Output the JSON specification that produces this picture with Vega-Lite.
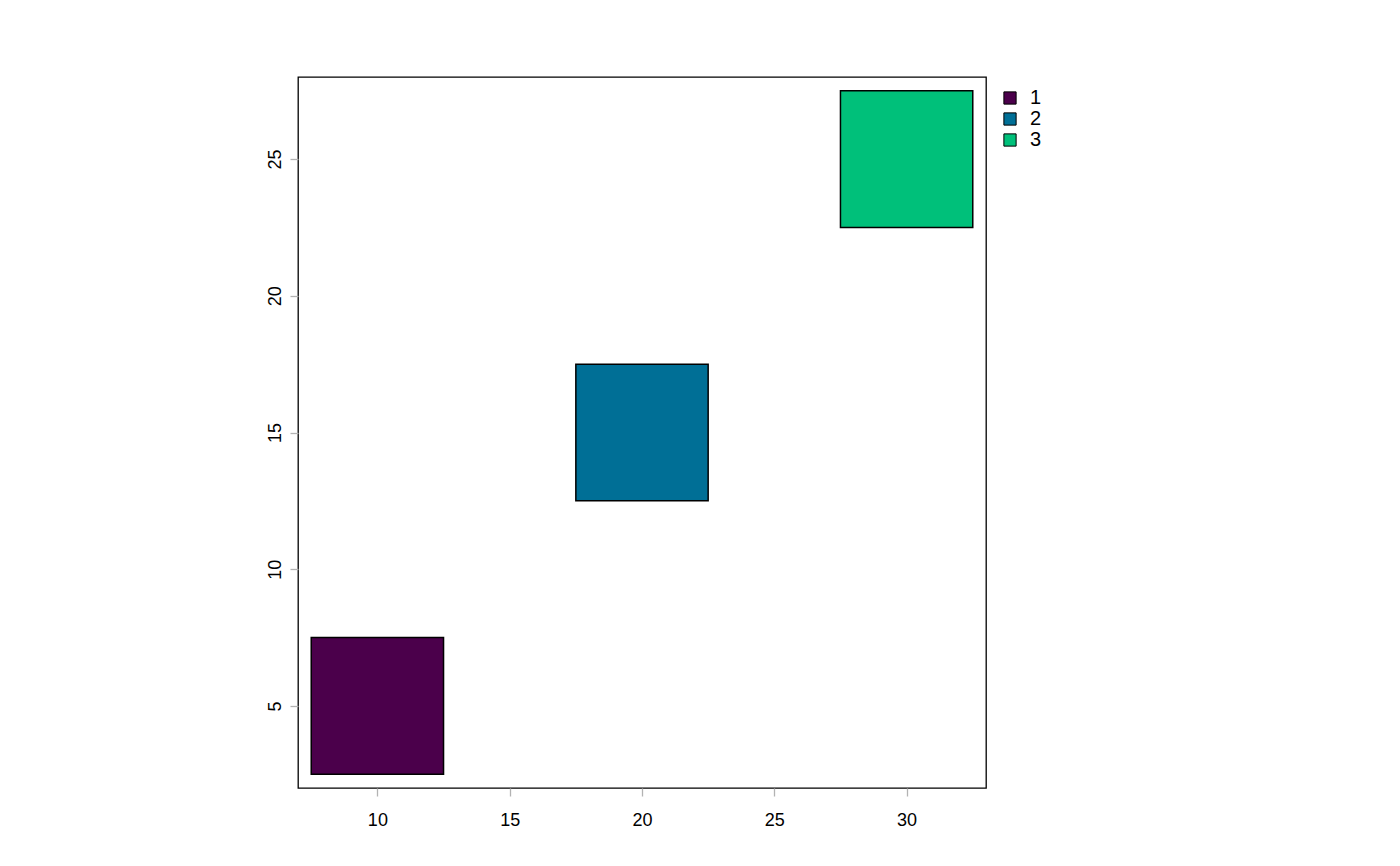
{
  "$schema": "https://vega.github.io/schema/vega-lite/v6.json",
  "autosize": "none",
  "width": 688,
  "height": 711,
  "padding": {"left": 298, "top": 77, "right": 414, "bottom": 78},
  "background": "white",
  "config": {
    "view": {"stroke": "black", "strokeWidth": 1.3},
    "font": "Liberation Sans",
    "axis": {
      "domain": false,
      "grid": false,
      "tickColor": "#b3b3b3",
      "tickSize": 8,
      "tickWidth": 1.3,
      "labelFont": "Liberation Sans",
      "labelFontSize": 18,
      "labelColor": "black",
      "title": null
    }
  },
  "data": {
    "values": [
      {"id": "1", "xmin": 7.5, "xmax": 12.5, "ymin": 2.5, "ymax": 7.5},
      {"id": "2", "xmin": 17.5, "xmax": 22.5, "ymin": 12.5, "ymax": 17.5},
      {"id": "3", "xmin": 27.5, "xmax": 32.5, "ymin": 22.5, "ymax": 27.5}
    ]
  },
  "mark": {"type": "rect", "stroke": "black", "strokeWidth": 1.5},
  "encoding": {
    "x": {
      "field": "xmin",
      "type": "quantitative",
      "scale": {"domain": [7, 33], "nice": false, "zero": false},
      "axis": {"values": [10, 15, 20, 25, 30], "labelBaseline": "top", "labelPadding": 15}
    },
    "x2": {"field": "xmax"},
    "y": {
      "field": "ymin",
      "type": "quantitative",
      "scale": {"domain": [2, 28], "nice": false, "zero": false},
      "axis": {"values": [5, 10, 15, 20, 25], "labelAngle": -90, "labelAlign": "center", "labelBaseline": "alphabetic", "labelPadding": 10}
    },
    "y2": {"field": "ymax"},
    "color": {
      "field": "id",
      "type": "nominal",
      "scale": {"domain": ["1", "2", "3"], "range": ["#4B004B", "#006F96", "#00C07A"]},
      "legend": {
        "title": null,
        "orient": "none",
        "legendX": 702,
        "legendY": 11,
        "symbolType": "square",
        "symbolSize": 150,
        "symbolStrokeColor": "black",
        "symbolStrokeWidth": 1,
        "labelFontSize": 20,
        "labelFont": "Liberation Sans",
        "labelColor": "black",
        "labelOffset": 10,
        "rowPadding": 1
      }
    }
  }
}
